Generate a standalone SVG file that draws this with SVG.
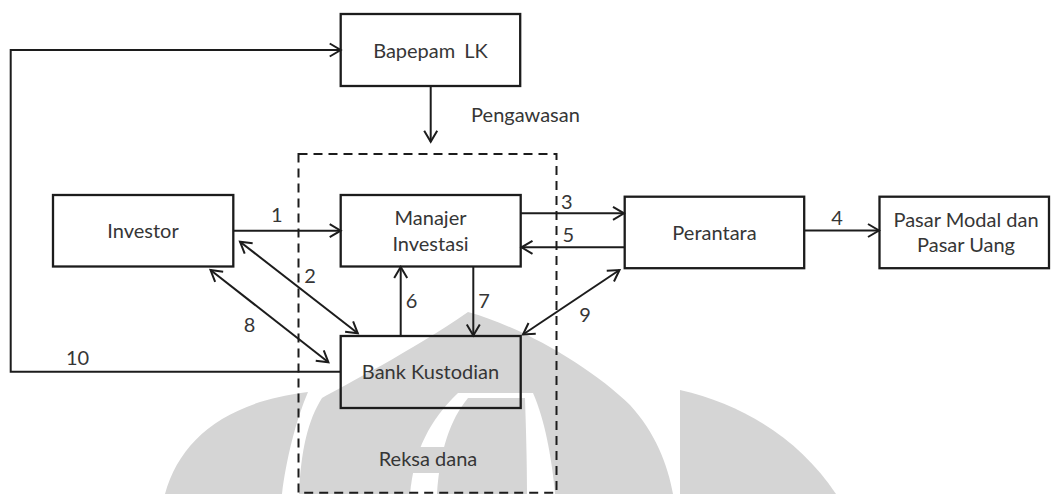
<svg xmlns="http://www.w3.org/2000/svg" width="1051" height="494" viewBox="0 0 1051 494">
<style>
.box{fill:none;stroke:#1c1c1c;stroke-width:2.3}
.ln{fill:none;stroke:#1c1c1c;stroke-width:2}
.t{font-family:Lato,"Liberation Sans",sans-serif;font-size:20px;fill:#363636;text-anchor:middle}
.wm{fill:#d5d5d5}
</style>
<defs>
<marker id="ah" viewBox="0 0 16 16" refX="13" refY="8" markerWidth="16" markerHeight="16" markerUnits="userSpaceOnUse" orient="auto-start-reverse">
<path d="M2,1.5 L13,8 L2,14.5" fill="none" stroke="#1c1c1c" stroke-width="2"/>
</marker>
</defs>
<rect width="1051" height="494" fill="#ffffff"/>
<g id="watermark">
<path class="wm" d="M165,494 C180,440 225,402 308,392 C296,420 286,460 282,494 Z"/>
<path class="wm" d="M680,390 C745,405 800,440 836,494 L680,494 Z"/>
<path class="wm" d="M299,494 C301,450 308,420 322,398 C345,385 410,352 468,312 C525,328 592,368 630,405 C655,432 668,465 673,494 Z"/>
<path fill="#ffffff" d="M410,494 C414,450 430,420 458,393 L533,393 C545,420 552,460 555,494 Z"/>
<path class="wm" d="M437,494 C440,450 450,420 468,398 L525,398 C526,430 527,460 527,494 Z"/>
<rect class="wm" x="375" y="447" width="106" height="26"/>
</g>
<g id="reksa-dana">
<rect x="298.5" y="154" width="258" height="338.7" fill="none" stroke="#1c1c1c" stroke-width="2" stroke-dasharray="9 6"/>
<text class="t" x="428" y="465.5">Reksa dana</text>
</g>
<g id="bapepam">
<rect class="box" x="340.7" y="14" width="179.5" height="72"/>
<text class="t" x="430.5" y="58.3" word-spacing="4">Bapepam LK</text>
</g>
<g id="investor">
<rect class="box" x="53" y="195" width="180.3" height="71.5"/>
<text class="t" x="143" y="238">Investor</text>
</g>
<g id="manajer">
<rect class="box" x="340.7" y="195" width="180" height="71.5"/>
<text class="t" x="430.5" y="225">Manajer</text>
<text class="t" x="430.5" y="251">Investasi</text>
</g>
<g id="perantara">
<rect class="box" x="624.7" y="196.7" width="179.5" height="71.5"/>
<text class="t" x="714.5" y="240">Perantara</text>
</g>
<g id="pasar">
<rect class="box" x="879.5" y="196.7" width="169.5" height="71.5"/>
<text class="t" x="966" y="226.5">Pasar Modal dan</text>
<text class="t" x="966" y="251.5">Pasar Uang</text>
</g>
<g id="bank">
<rect class="box" x="340.7" y="336" width="180" height="72"/>
<text class="t" x="430.5" y="379">Bank Kustodian</text>
</g>
<g id="connectors">
<path class="ln" d="M340.7,371.7 H10.7 V50 H340.7" marker-end="url(#ah)"/>
<path class="ln" d="M430.7,86 V141.7" marker-end="url(#ah)"/>
<path class="ln" d="M233.3,230.7 H340.7" marker-end="url(#ah)"/>
<path class="ln" d="M520.7,213.3 H624" marker-end="url(#ah)"/>
<path class="ln" d="M624.7,247.3 H521.5" marker-end="url(#ah)"/>
<path class="ln" d="M804,230.5 H879" marker-end="url(#ah)"/>
<path class="ln" d="M240,241.7 L357.8,333.3" marker-start="url(#ah)" marker-end="url(#ah)"/>
<path class="ln" d="M210.5,270 L328.4,362.3" marker-start="url(#ah)" marker-end="url(#ah)"/>
<path class="ln" d="M619.5,270 L523,334.5" marker-start="url(#ah)" marker-end="url(#ah)"/>
<path class="ln" d="M400.7,336 V267" marker-end="url(#ah)"/>
<path class="ln" d="M473.3,266.5 V335.5" marker-end="url(#ah)"/>
</g>
<g id="labels">
<text class="t" x="525.5" y="121.7">Pengawasan</text>
<text class="t" x="276.7" y="221.7">1</text>
<text class="t" x="310" y="283.3">2</text>
<text class="t" x="566.7" y="209.3">3</text>
<text class="t" x="837" y="225">4</text>
<text class="t" x="568.3" y="241.7">5</text>
<text class="t" x="411.5" y="307.5">6</text>
<text class="t" x="484" y="307.5">7</text>
<text class="t" x="249.5" y="331.7">8</text>
<text class="t" x="585" y="321.7">9</text>
<text class="t" x="77.5" y="365">10</text>
</g>
</svg>
